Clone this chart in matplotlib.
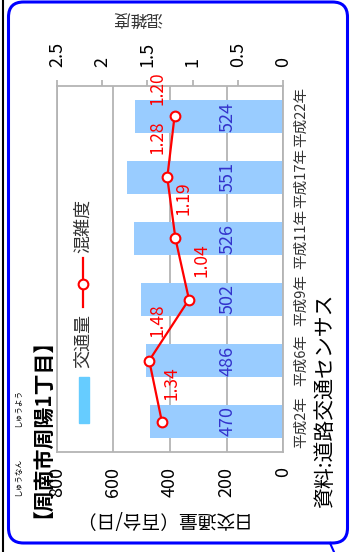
import numpy as np
import matplotlib
matplotlib.use('Agg')
import matplotlib.pyplot as plt
from matplotlib.patches import FancyBboxPatch, Rectangle
from matplotlib.lines import Line2D

plt.rcParams['font.family'] = ['Noto Sans CJK JP', 'DejaVu Sans']

# data (bottom to top in the rotated chart)
years = ['平成2年', '平成6年', '平成9年', '平成11年', '平成17年', '平成22年']
traffic = [470, 486, 502, 526, 551, 524]
congestion = [1.34, 1.48, 1.04, 1.19, 1.28, 1.20]
traffic_ticks = [0, 200, 400, 600, 800]
cong_ticks = [0, 0.5, 1, 1.5, 2, 2.5]
cong_ticklabels = ['0', '0.5', '1', '1.5', '2', '2.5']

# red label offsets in pixels (dx, dy)
label_off = [(10, 38), (8, 40), (13, 39), (8, 40), (-10, 40), (-17, 28)]

W, H = 350, 552
fig = plt.figure(figsize=(W / 100, H / 100), dpi=100)

def fx(x):
    return x / W

def fy(y):
    return 1 - y / H

# plot area: x 57-283, y 86-452 (pixels from top-left)
AX_L, AX_R, AX_T, AX_B = 57, 283, 86, 452
ax = fig.add_axes([fx(AX_L), fy(AX_B), (AX_R - AX_L) / W, (AX_B - AX_T) / H])
pos = np.arange(len(years))
grey = '#b4b4b4'

ax.barh(pos, traffic, height=0.54, color='#99ccff', zorder=2)
ax.set_xlim(800, 0)
ax.set_ylim(-0.5, len(years) - 0.5)
ax.set_xticks(traffic_ticks)
ax.set_xticklabels([str(t) for t in traffic_ticks], rotation=90, fontsize=13)
ax.tick_params(axis='x', length=0, pad=11)
ax.grid(axis='x', color=grey, lw=1.3, zorder=1)
ax.yaxis.tick_right()
ax.set_yticks(pos)
ax.set_yticklabels(years, rotation=90, fontsize=10.5, color='#333333', va='center')
ax.tick_params(axis='y', length=0, pad=8)
for s in ax.spines.values():
    s.set_color(grey)
    s.set_linewidth(1.3)

for p, t in zip(pos, traffic):
    ax.text(195, p, str(t), rotation=90, ha='center', va='center',
            color='#3333cc', fontsize=13, zorder=4)

ax2 = ax.twiny()
ax2.set_xlim(2.5, 0)
ax2.set_xticks(cong_ticks)
ax2.set_xticklabels(cong_ticklabels, rotation=90, fontsize=13)
ax2.tick_params(axis='x', length=4, color=grey, width=1.3, pad=10)
for s in ax2.spines.values():
    s.set_visible(False)
ax2.plot(congestion, pos, color='#ff0000', lw=1.6, marker='o', ms=7,
         mfc='white', mec='#ff0000', mew=1.5, zorder=5)
for p, c, (dx, dy) in zip(pos, congestion, label_off):
    ax2.annotate(f'{c:.2f}', (c, p), xytext=(dx, dy), textcoords='offset pixels',
                 rotation=90, ha='center', va='center', color='#ff0000',
                 fontsize=12.5, zorder=6)

# legend drawn by hand (rotated)
aw = AX_R - AX_L
ax.add_patch(Rectangle(((79 - AX_L) / aw, 0.079), 10 / aw, 0.126,
                       transform=ax.transAxes, color='#66ccff', zorder=3))
lx = (83 - AX_L) / aw
ax.add_line(Line2D([lx, lx], [0.396, 0.530], transform=ax.transAxes,
                   color='#ff0000', lw=1.6, zorder=3))
ax.add_line(Line2D([lx], [0.459], transform=ax.transAxes, marker='o', ms=7,
                   mfc='white', mec='#ff0000', mew=1.5, zorder=4))
ax.text(lx, 0.303, '交通量', transform=ax.transAxes, rotation=90,
        ha='center', va='center', fontsize=13, color='#333333')
ax.text(lx, 0.617, '混雑度', transform=ax.transAxes, rotation=90,
        ha='center', va='center', fontsize=13, color='#333333')

# labels around the chart
fig.text(fx(32), fy(418), '【周南市周陽1丁目】', rotation=90, ha='center', va='center',
         fontsize=15, fontweight='bold')
fig.text(fx(18), fy(477), 'しゅうなん', rotation=90, ha='center', va='center', fontsize=5.5)
fig.text(fx(18), fy(408), 'しゅうよう', rotation=90, ha='center', va='center', fontsize=5.5)
fig.text(fx(325), fy(401), '資料:道路交通センサス', rotation=90, ha='center', va='center',
         fontsize=15)
fig.text(fx(159), fy(519), '日交通量（百台/日）', rotation=180, ha='center', va='center',
         fontsize=13.5)
fig.text(fx(137), fy(18), '混雑度', rotation=180, ha='center', va='center',
         fontsize=12, color='#333333')

# frame
fig.add_artist(FancyBboxPatch((0.085, 0.09), 3.39, 5.41,
                              boxstyle='round,pad=0,rounding_size=0.15',
                              transform=fig.dpi_scale_trans, fill=False,
                              ec='#0000ff', lw=2.2))
fig.add_artist(Line2D([0.03, 0.03], [0, 5.52], transform=fig.dpi_scale_trans,
                      color='black', lw=1.5))
fig.add_artist(Line2D([3.30, 3.34], [0.09, 0.0], transform=fig.dpi_scale_trans,
                      color='#0000ff', lw=1.5))

fig.savefig('out.png', dpi=100)
